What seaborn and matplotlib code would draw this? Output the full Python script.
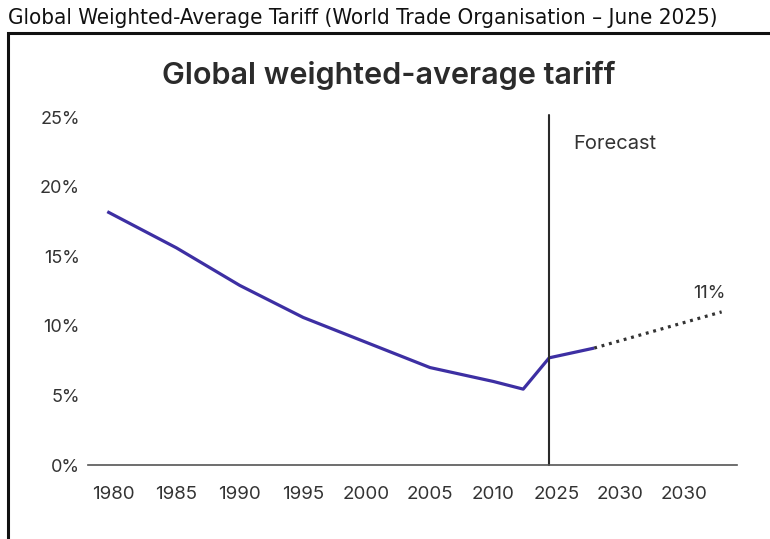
import matplotlib
matplotlib.use("Agg")
import matplotlib.pyplot as plt
import matplotlib.patches as mpatches
import seaborn as sns
import pandas as pd

# Axis categories (label slots along the x axis)
tick_labels = ["1980", "1985", "1990", "1995", "2000", "2005", "2010", "2025", "2030", "2030"]

# Historical series: position along the label slots, tariff in percent
hist_pos = [-0.09, 1.0, 2.0, 3.0, 4.0, 5.0, 6.0, 6.47, 6.88, 7.59]
hist_val = [18.2, 15.6, 12.9, 10.6, 8.8, 7.0, 6.0, 5.45, 7.7, 8.4]

# Forecast series
fc_pos = [7.59, 9.6]
fc_val = [8.4, 11.0]

forecast_start = 6.88
y_ticks = [0, 5, 10, 15, 20, 25]

sns.set_theme(style="white")
plt.rcParams["font.family"] = ["Inter", "DejaVu Sans"]

fig = plt.figure(figsize=(7.7, 5.39), dpi=100)

# Outer caption and frame
fig.text(8 / 770, 1 - 18 / 539, "Global Weighted-Average Tariff (World Trade Organisation \u2013 June 2025)",
         fontsize=16, family=["DejaVu Sans"], fontstretch="condensed", color="#111111",
         ha="left", va="center")
frame = mpatches.Rectangle((8 / 770, -0.05), 1.2, 1 - 33 / 539 + 0.05, transform=fig.transFigure,
                           fill=False, edgecolor="#111111", linewidth=2.2)
fig.patches.append(frame)

ax = fig.add_axes([88 / 770, 1 - 465 / 539, (737 - 88) / 770, (465 - 117) / 539])

hist_df = pd.DataFrame({"pos": hist_pos, "val": hist_val})
fc_df = pd.DataFrame({"pos": fc_pos, "val": fc_val})

sns.lineplot(data=hist_df, x="pos", y="val", ax=ax, color="#3d2fa3", linewidth=2.3,
             sort=False, estimator=None, solid_capstyle="butt")
sns.lineplot(data=fc_df, x="pos", y="val", ax=ax, color="#333333", linewidth=2.3,
             sort=False, estimator=None, linestyle=(0, (0.9, 1.5)))

ax.axvline(forecast_start, ymin=0, ymax=1.005, color="#2a2a2a", linewidth=1.5, clip_on=False)

ax.set_xlim((88 - 113) / 63.4, (737 - 113) / 63.4)
ax.set_ylim(0, 25)
ax.set_xticks(range(len(tick_labels)))
ax.set_xticklabels(tick_labels)
ax.set_yticks(y_ticks)
ax.set_yticklabels([f"{v}%" for v in y_ticks])
ax.tick_params(axis="both", length=0, labelcolor="#333333")
ax.tick_params(axis="x", pad=15, labelsize=13.5)
ax.tick_params(axis="y", pad=6, labelsize=13)
ax.set_xlabel("")
ax.set_ylabel("")

for side in ["left", "right", "top"]:
    ax.spines[side].set_visible(False)
ax.spines["bottom"].set_color("#555555")
ax.spines["bottom"].set_linewidth(1.2)

ax.text(forecast_start + 0.38, 23.05, "Forecast", fontsize=14.5, color="#333333", ha="left", va="center")
ax.text(fc_pos[-1] - 0.2, fc_val[-1] + 1.3, f"{fc_val[-1]:.0f}%", fontsize=13, color="#333333",
        ha="center", va="center")

fig.text(389 / 770, 1 - 75 / 539, "Global weighted-average tariff", fontsize=22, fontweight="semibold",
         color="#2b2b2b", ha="center", va="center")

fig.savefig("out.png", dpi=100)
